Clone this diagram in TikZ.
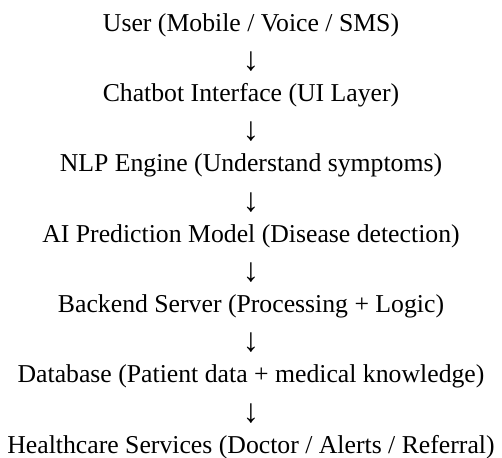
\documentclass[tikz,border=0pt]{standalone}
\usepackage{fontspec}
\setmainfont{Liberation Serif}
\tikzset{
    layer/.style={anchor=base, inner sep=0pt, font=\fontsize{19.3}{23}\selectfont},
    flow/.style={anchor=base, inner sep=0pt, yshift=-3.2pt, font=\fontsize{25}{28}\selectfont}
}
\begin{document}
\begin{tikzpicture}[x=1pt, y=1pt]
    % 画布
    \useasboundingbox (0,0) rectangle (376.5,-342.75);

    % 各层
    \node[layer] (user) at (188.25,-23.25) {User (Mobile / Voice / SMS)};
    \node[flow]  (a1)   at (188.25,-49.625) {↓};
    \node[layer] (ui)   at (188.25,-76.0) {Chatbot Interface (UI Layer)};
    \node[flow]  (a2)   at (188.25,-102.375) {↓};
    \node[layer] (nlp)  at (188.25,-128.75) {NLP Engine (Understand symptoms)};
    \node[flow]  (a3)   at (188.25,-155.125) {↓};
    \node[layer] (ai)   at (188.25,-181.5) {AI Prediction Model (Disease detection)};
    \node[flow]  (a4)   at (188.25,-207.875) {↓};
    \node[layer] (srv)  at (188.25,-234.25) {Backend Server (Processing + Logic)};
    \node[flow]  (a5)   at (188.25,-260.625) {↓};
    \node[layer] (db)   at (188.25,-287.0) {Database (Patient data + medical knowledge)};
    \node[flow]  (a6)   at (188.25,-313.375) {↓};
    \node[layer] (care) at (188.25,-339.75) {Healthcare Services (Doctor / Alerts / Referral)};
\end{tikzpicture}
\end{document}
